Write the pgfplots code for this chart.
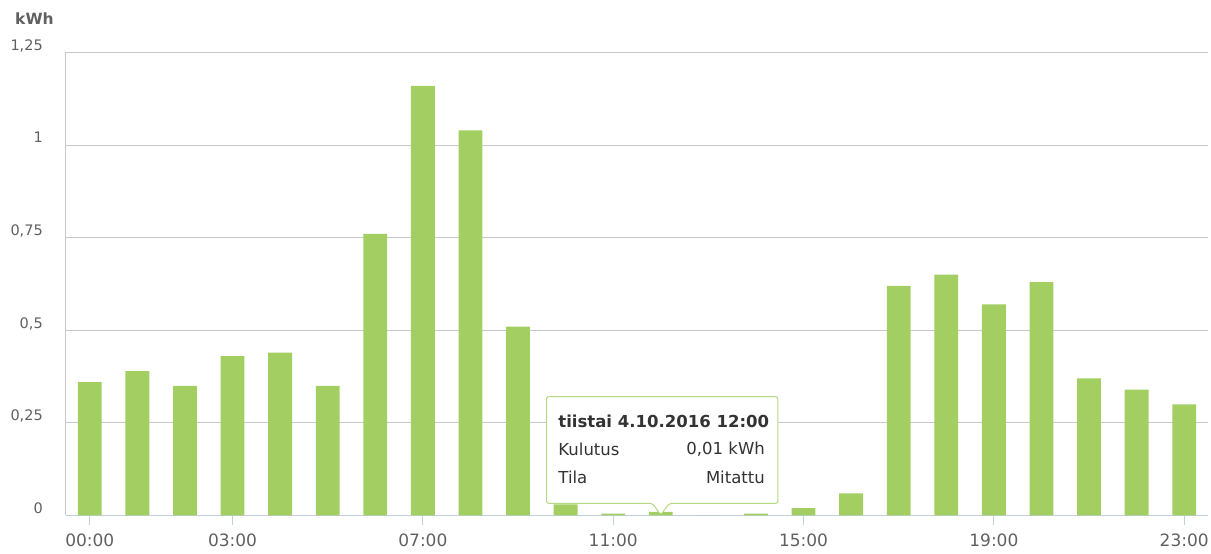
\documentclass[border=0pt]{standalone}
\usepackage{fontspec}
\setmainfont{DejaVu Sans}
\usepackage{pgfplots}
\pgfplotsset{compat=1.18}
\definecolor{barc}{HTML}{A3CF62}
\definecolor{gridc}{HTML}{C8C8C8}
\definecolor{xax}{HTML}{C0D0E0}
\definecolor{lab}{HTML}{606060}
\definecolor{tipborder}{HTML}{B5D882}
\definecolor{tiptext}{HTML}{333333}
\begin{document}
\begin{tikzpicture}
\useasboundingbox (0,0) rectangle (1211pt,554pt);
\begin{axis}[
  at={(66pt,38.5pt)}, anchor=south west,
  width=1142pt, height=463pt, scale only axis,
  xmin=-0.5, xmax=23.5, ymin=0, ymax=1.25,
  axis x line=bottom, axis y line=left,
  axis line style={-},
  x axis line style={draw=xax, line width=1pt},
  y axis line style={draw=gridc, line width=1pt},
  ymajorgrids, grid style={draw=gridc, line width=1pt},
  ytick={0,0.25,0.5,0.75,1,1.25},
  yticklabels={0,{0,25},{0,5},{0,75},1,{1,25}},
  xtick={0,3,7,11,15,19,23},
  xticklabels={00:00,03:00,07:00,11:00,15:00,19:00,23:00},
  tick align=outside, major tick length=10pt,
  xtick style={draw=xax, line width=1pt},
  ytick style={draw=none},
  xticklabel style={font=\fontsize{17}{20}\selectfont, text=lab, anchor=north, inner sep=0pt, yshift=-8.5pt},
  yticklabel style={font=\fontsize{14.5}{17}\selectfont, text=lab, anchor=base east, inner sep=0pt, xshift=-13pt, yshift=2.2pt},
  ybar, bar width=0.5,
  clip=false,
]
\addplot[fill=barc, draw=none] coordinates {
(0,0.36) (1,0.39) (2,0.35) (3,0.43) (4,0.44) (5,0.35)
(6,0.76) (7,1.16) (8,1.04) (9,0.51) (10,0.03) (11,0.005)
(12,0.01) (13,0) (14,0.005) (15,0.02) (16,0.06) (17,0.62)
(18,0.65) (19,0.57) (20,0.63) (21,0.37) (22,0.34) (23,0.30)
};
\node[anchor=west, inner sep=0pt, xshift=-51pt, yshift=33.5pt, font=\bfseries\fontsize{15.5}{18}\selectfont, text=lab] at (rel axis cs:0,1) {kWh};
\draw[draw=tipborder, fill=white, line width=1pt, rounded corners=2pt]
  (axis cs:9.60,0.3207) -- (axis cs:14.46,0.3207) -- (axis cs:14.46,0.033)
  -- (axis cs:12.18,0.033) -- (axis cs:12.0,0.002) -- (axis cs:11.82,0.033)
  -- (axis cs:9.60,0.033) -- cycle;
\node[anchor=west, inner sep=0pt, font=\bfseries\fontsize{16.5}{19}\selectfont, text=tiptext] at (axis cs:9.845,0.2532) {tiistai 4.10.2016 12:00};
\node[anchor=west, inner sep=0pt, font=\fontsize{16.5}{19}\selectfont, text=tiptext] at (axis cs:9.845,0.1787) {Kulutus};
\node[anchor=east, inner sep=0pt, font=\fontsize{16.5}{19}\selectfont, text=tiptext] at (axis cs:14.19,0.1787) {0,01 kWh};
\node[anchor=west, inner sep=0pt, font=\fontsize{16.5}{19}\selectfont, text=tiptext] at (axis cs:9.845,0.1031) {Tila};
\node[anchor=east, inner sep=0pt, font=\fontsize{16.5}{19}\selectfont, text=tiptext] at (axis cs:14.19,0.1031) {Mitattu};
\end{axis}
\end{tikzpicture}
\end{document}
